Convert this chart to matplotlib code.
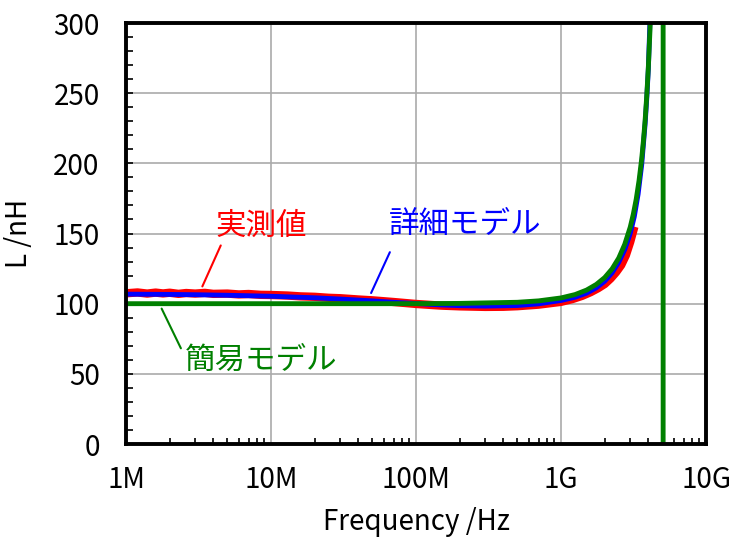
import numpy as np
import matplotlib.pyplot as plt
from matplotlib.ticker import LogLocator, MultipleLocator, FixedLocator, NullFormatter

plt.rcParams['font.family'] = ['Noto Sans CJK JP', 'DejaVu Sans']

# 実測値 (measured)
f_meas = [1e6, 1.2e6, 1.4e6, 1.6e6, 1.8e6, 2e6, 2.3e6, 2.6e6, 3e6, 3.5e6, 4e6, 5e6, 6e6,
          7e6, 8.5e6, 1e7, 1.3e7, 1.6e7, 2e7, 2.5e7, 3e7, 4e7, 5e7, 7e7, 1e8, 1.5e8,
          2e8, 3e8, 4e8, 5e8, 7e8, 1e9, 1.2e9, 1.4e9, 1.6e9, 1.8e9, 2e9, 2.2e9, 2.4e9,
          2.6e9, 2.8e9, 3.0e9, 3.15e9]
L_meas = [107.4, 108.0, 107.2, 107.9, 107.3, 107.8, 107.0, 107.6, 107.2, 107.7, 107.0,
          107.2, 106.6, 106.9, 106.3, 106.2, 105.8, 105.2, 104.9, 104.2, 103.9, 103.0,
          102.4, 101.2, 99.8, 98.6, 98.1, 97.7, 97.8, 98.2, 99.3, 101.3, 103.3, 105.6,
          108.2, 111.0, 114.0, 118.0, 122.5, 127.5, 134.5, 144.0, 152.0]

# 詳細モデル (detailed model)
f_det = [1e6, 2e6, 3e6, 5e6, 1e7, 2e7, 3e7, 5e7, 7e7, 1e8, 1.5e8, 2e8, 3e8, 5e8, 7e8,
         1e9, 1.25e9, 1.5e9, 1.75e9, 2e9, 2.25e9, 2.5e9, 2.75e9, 3e9, 3.2e9, 3.4e9,
         3.6e9, 3.8e9, 3.9e9, 4.0e9, 4.1e9, 4.2e9, 4.4e9]
L_det = [106.8, 106.6, 106.4, 106.0, 105.3, 104.2, 103.3, 102.0, 101.0, 100.1, 99.1,
         98.6, 98.3, 98.7, 99.9, 102.3, 104.6, 107.5, 111.3, 116.0, 122.0, 129.5, 138.5,
         150.0, 162.0, 178.0, 199.0, 228.0, 246.0, 267.0, 300.0, 335.0, 440.0]

# 簡易モデル (simple model)
f_simp = [1e6, 1e7, 1e8, 2e8, 5e8, 7e8, 1e9, 1.25e9, 1.5e9, 1.75e9, 2e9, 2.25e9,
          2.5e9, 2.75e9, 3e9, 3.15e9, 3.3e9, 3.45e9, 3.6e9, 3.7e9, 3.8e9, 3.9e9, 4.0e9,
          4.1e9, 4.2e9, 4.4e9, 4.6e9, 4.8e9, 4.95e9, 5.04e9, 5.07e9, 5.5e9, 7e9, 1e10]
L_simp = [100.0, 100.0, 100.0, 100.2, 101.0, 102.0, 104.1, 106.5, 109.7, 113.7, 118.6,
          124.8, 132.5, 142.3, 154.5, 163.7, 174.5, 187.6, 203.3, 216.0, 230.5, 248.0,
          268.4, 293.4, 324.4, 415.3, 587.0, 1035.0, 2550.0, 25250.0, -12600.0, -537.0,
          -108.6, -34.2]

xticks = [1e6, 1e7, 1e8, 1e9, 1e10]
xticklabels = ['1M', '10M', '100M', '1G', '10G']

fig = plt.figure(figsize=(7.34, 5.38), dpi=100)
ax = fig.add_axes([0.1717, 0.1747, 0.7902, 0.7825])

ax.plot(f_meas, L_meas, color='#ff0000', lw=6, zorder=3)
ax.plot(f_det, L_det, color='#0000ff', lw=3.5, zorder=4)
ax.plot(f_simp, L_simp, color='#008000', lw=3.5, zorder=5)

ax.set_xscale('log')
ax.set_xlim(1e6, 1e10)
ax.set_ylim(0, 300)

ax.xaxis.set_major_locator(FixedLocator(xticks))
ax.set_xticklabels(xticklabels)
ax.xaxis.set_minor_locator(LogLocator(base=10, subs=np.arange(2, 10)))
ax.xaxis.set_minor_formatter(NullFormatter())
ax.yaxis.set_major_locator(MultipleLocator(50))
ax.yaxis.set_minor_locator(MultipleLocator(10))

ax.grid(True, which='major', color='#aaaaaa', lw=1.2)
ax.set_axisbelow(True)

for s in ax.spines.values():
    s.set_linewidth(2.8)
    s.set_zorder(6)

ax.tick_params(axis='x', which='major', direction='in', length=0, pad=15, labelsize=20)
ax.tick_params(axis='x', which='minor', direction='in', length=4, width=1.2)
ax.tick_params(axis='y', which='both', direction='in', length=5, width=1.2,
               pad=19, labelsize=20)

ax.set_xlabel('Frequency /Hz', fontsize=20, labelpad=9)
ax.set_ylabel('L /nH', fontsize=20, labelpad=14)

# labels and leader lines
ax.text(8.6e6, 155.3, '実測値', color='#ff0000', fontsize=22, ha='center', va='center')
ax.annotate('', xy=(3.36e6, 112.3), xytext=(4.5e6, 141.5),
            arrowprops=dict(arrowstyle='-', color='#ff0000', lw=1.5, shrinkA=0, shrinkB=0))
ax.text(2.19e8, 156.4, '詳細モデル', color='#0000ff', fontsize=22, ha='center', va='center')
ax.annotate('', xy=(4.9e7, 107.6), xytext=(6.6e7, 136.7),
            arrowprops=dict(arrowstyle='-', color='#0000ff', lw=1.5, shrinkA=0, shrinkB=0))
ax.text(8.6e6, 59.7, '簡易モデル', color='#008000', fontsize=22, ha='center', va='center')
ax.annotate('', xy=(1.76e6, 96.5), xytext=(2.39e6, 68.2),
            arrowprops=dict(arrowstyle='-', color='#008000', lw=1.5, shrinkA=0, shrinkB=0))

fig.savefig('out.png', dpi=100)
